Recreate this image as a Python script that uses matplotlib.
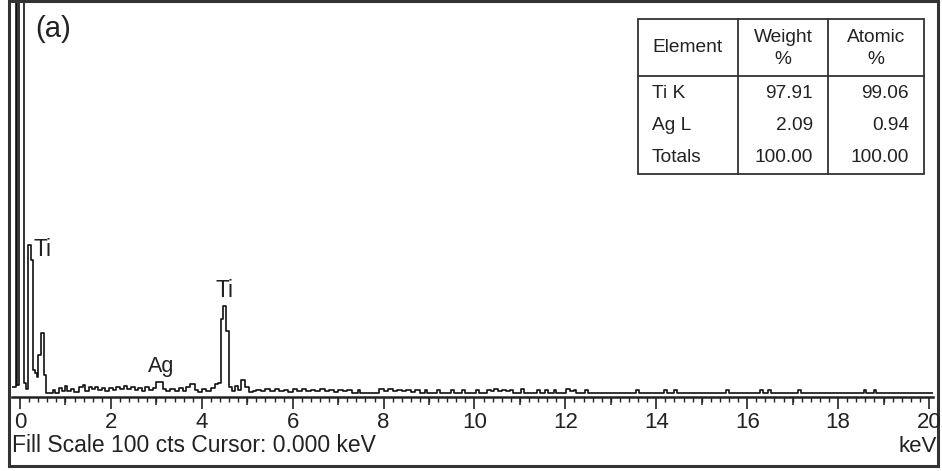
import matplotlib
matplotlib.use("Agg")
import matplotlib.pyplot as plt
from matplotlib.patches import Rectangle
from matplotlib.ticker import MultipleLocator

plt.rcParams['font.family'] = ['Liberation Sans', 'DejaVu Sans']

# EDS spectrum (step edges in keV, counts on a 100 cts full scale)
energy = [-0.18, -0.09, -0.06, -0.02, 0.09, 0.13, 0.17, 0.24, 0.29, 0.33, 0.38, 0.40, 0.46, 0.52,
          0.57, 0.72, 0.78, 0.86, 0.92, 0.98, 1.04, 1.12, 1.18, 1.30, 1.38, 1.44, 1.52, 1.58,
          1.64, 1.72, 1.80, 1.88, 1.96, 2.04, 2.12, 2.20, 2.28, 2.36, 2.44, 2.52, 2.60, 2.68,
          2.76, 2.84, 2.92, 3.00, 3.14, 3.22, 3.30, 3.40, 3.50, 3.58, 3.66, 3.74, 3.84, 3.92,
          4.00, 4.10, 4.20, 4.30, 4.36, 4.42, 4.46, 4.54, 4.60, 4.66, 4.72, 4.80, 4.86, 4.96,
          5.04, 5.12, 5.20, 5.30, 5.40, 5.50, 5.60, 5.70, 5.80, 5.90, 6.00, 6.10, 6.20, 6.30,
          6.40, 6.50, 6.60, 6.70, 6.80, 6.90, 7.00, 7.10, 7.20, 7.30, 7.43, 7.48, 7.90, 8.00,
          8.10, 8.20, 8.30, 8.40, 8.50, 8.60, 8.70, 8.80, 8.90, 8.96, 9.18, 9.24, 9.48, 9.54,
          9.72, 9.78, 10.04, 10.10, 10.28, 10.36, 10.44, 10.52, 10.60, 10.70, 10.78, 10.84,
          11.02, 11.10, 11.38, 11.44, 11.56, 11.62, 11.74, 11.80, 12.02, 12.10, 12.18, 12.24,
          12.44, 12.50, 13.56, 13.62, 14.18, 14.24, 14.40, 14.46, 15.54, 15.60, 16.28, 16.34,
          16.46, 16.52, 17.12, 17.18, 18.56, 18.62, 18.78, 18.84, 20.08]
counts = [1.5, 130, 2.0, 130, 2.5, 1.0, 38, 34, 6.0, 5.0, 4.0, 9.7, 15.5, 4.6,
          0, 0.8, 0, 1.2, 0.5, 1.8, 0.5, 1.0, 0.3, 1.5, 2.0, 0.5, 1.5, 1.0,
          1.6, 0.8, 1.2, 0.6, 1.4, 0.8, 1.6, 0.9, 1.7, 1.0, 1.5, 0.7, 1.3, 0.6,
          1.5, 0.8, 1.2, 2.8, 1.0, 0.5, 1.0, 0.4, 1.2, 0.5, 1.5, 2.4, 0.8, 0.3,
          1.0, 0.5, 1.2, 2.2, 2.5, 19, 22.3, 16, 1.5, 0.5, 1.8, 0.8, 3.3, 1.5,
          0.3, 0.5, 0.8, 0.4, 0.9, 0.5, 0.9, 0.4, 0.8, 0.3, 0.9, 0.5, 1.0, 0.4,
          0.8, 0.5, 0.9, 0.4, 0.8, 0.3, 0.7, 0.4, 0.8, 0, 0.8, 0, 0.9, 0.4,
          0.9, 0.4, 0.8, 0.4, 0.8, 0.3, 0.8, 0, 0.7, 0, 0.8, 0, 0.8, 0,
          0.8, 0, 0.8, 0, 0.8, 0.4, 0.9, 0.4, 0.8, 0.4, 0.8, 0,
          0.9, 0, 0.8, 0, 0.8, 0, 0.8, 0, 0.9, 0.5, 0.8, 0,
          0.8, 0, 0.8, 0, 0.8, 0, 0.8, 0, 0.8, 0, 0.8, 0,
          0.8, 0, 0.8, 0, 0.8, 0, 0.8, 0, 0]

peak_labels = ["Ti", "Ti", "Ag"]
peak_x = [0.29, 4.49, 3.10]
peak_y = [35.0, 24.6, 5.4]

table_header = [["Element", ""], ["Weight", "%"], ["Atomic", "%"]]
table_elements = ["Ti K", "Ag L", "Totals"]
table_weight = ["97.91", "2.09", "100.00"]
table_atomic = ["99.06", "0.94", "100.00"]

W, H = 942, 471
fig = plt.figure(figsize=(W / 100, H / 100), dpi=100)

# overlay in pixel coordinates for the frame, table and captions
ov = fig.add_axes([0, 0, 1, 1], zorder=0)
ov.set_xlim(0, W)
ov.set_ylim(H, 0)
ov.axis("off")
ov.add_patch(Rectangle((9, 1), 929, 465, fill=False, lw=2.2, ec="#333333"))

# table
tl, tc1, tc2, tr = 638, 738, 828, 924
tt, th, tb = 19, 76, 174
ov.add_patch(Rectangle((tl, tt), tr - tl, tb - tt, fill=False, lw=1.3, ec="#333333"))
ov.plot([tc1, tc1], [tt, tb], color="#333333", lw=1.3)
ov.plot([tc2, tc2], [tt, tb], color="#333333", lw=1.3)
ov.plot([tl, tr], [th, th], color="#333333", lw=1.3)
tfs = 13.8
ov.text(652, 48, table_header[0][0], fontsize=tfs, va="center", ha="left", color="#222222")
for (c0, c1), hdr in zip([(tc1, tc2), (tc2, tr)], table_header[1:]):
    ov.text((c0 + c1) / 2, 37, hdr[0], fontsize=tfs, ha="center", va="center", color="#222222")
    ov.text((c0 + c1) / 2, 60, hdr[1], fontsize=tfs, ha="center", va="center", color="#222222")
for i, ry in enumerate([93, 126, 158]):
    ov.text(652, ry, table_elements[i], fontsize=tfs, ha="left", va="center", color="#222222")
    ov.text(tc2 - 15, ry, table_weight[i], fontsize=tfs, ha="right", va="center", color="#222222")
    ov.text(tr - 15, ry, table_atomic[i], fontsize=tfs, ha="right", va="center", color="#222222")

ov.text(35, 37, "(a)", fontsize=21, ha="left", va="baseline", color="#222222")
ov.text(12, 452, "Fill Scale 100 cts Cursor: 0.000 keV", fontsize=16.5, ha="left",
        va="baseline", color="#222222")
ov.text(937, 452, "keV", fontsize=16, ha="right", va="baseline", color="#222222")

# spectrum axes
ax = fig.add_axes([12 / W, (H - 397) / H, 921 / W, 394 / H], zorder=1)
ax.set_facecolor("none")
ax.step(energy, counts, where="post", color="#111111", lw=1.2)
ax.set_xlim(-0.176, 20.088)
ax.set_ylim(-1.03, 100)
for s in ["top", "left", "right"]:
    ax.spines[s].set_visible(False)
ax.spines["bottom"].set_linewidth(1.8)
ax.spines["bottom"].set_color("#222222")
ax.set_yticks([])
ax.xaxis.set_major_locator(MultipleLocator(2))
ax.xaxis.set_minor_locator(MultipleLocator(0.2))
ax.tick_params(axis="x", which="major", length=8.6, width=1.2, pad=2,
               labelsize=16, colors="#222222")
ax.tick_params(axis="x", which="minor", length=3.6, width=1.0, colors="#222222")

sec = ax.secondary_xaxis("bottom")
sec.set_xticks(list(range(1, 20, 2)), labels=[])
sec.tick_params(length=5.8, width=1.1, colors="#222222")
sec.spines["bottom"].set_visible(False)

for lab, x, y in zip(peak_labels, peak_x, peak_y):
    ha = "left" if lab == "Ti" and x < 1 else "center"
    fs = 16.5 if lab == "Ti" else 15.5
    ax.text(x, y, lab, fontsize=fs, ha=ha, va="baseline", color="#222222")

fig.savefig("out.png", dpi=100)
